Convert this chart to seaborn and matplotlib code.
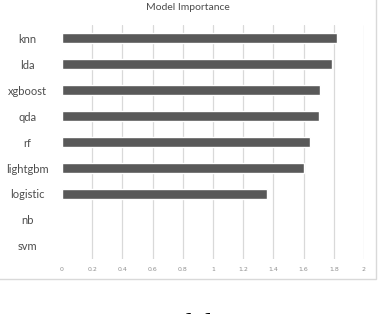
import matplotlib
matplotlib.use('Agg')
import matplotlib.pyplot as plt
import matplotlib.patches as mpatches
import seaborn as sns
import pandas as pd

# ── Data ──────────────────────────────────────────────────────────────────────
models     = ['knn', 'lda', 'xgboost', 'qda', 'rf', 'lightgbm', 'logistic', 'nb', 'svm']
importance = [1.82, 1.79, 1.71, 1.705, 1.645, 1.605, 1.355, 0, 0]
xticks     = [0, 0.2, 0.4, 0.6, 0.8, 1, 1.2, 1.4, 1.6, 1.8, 2]
xticklabels = ['0', '0.2', '0.4', '0.6', '0.8', '1', '1.2', '1.4', '1.6', '1.8', '2']

df = pd.DataFrame({'model': models, 'importance': importance})

# ── Style ─────────────────────────────────────────────────────────────────────
sns.set_theme(style='white')
plt.rcParams['font.family'] = ['Lato', 'DejaVu Sans']

BAR   = '#595959'
GRID  = '#D9D9D9'
TEXT  = '#4D4D4D'

fig = plt.figure(figsize=(3.78, 3.14), dpi=100)
ax = fig.add_axes([62 / 378, 1 - 259 / 314, (364 - 62) / 378, (259 - 25) / 314])

sns.barplot(data=df, x='importance', y='model', orient='h', color=BAR,
            width=0.39, saturation=1, ax=ax)

ax.set_xlim(0, 2)
ax.set_ylim(8.5, -0.5)
ax.set_xticks(xticks)
ax.set_xticklabels(xticklabels, family=['DejaVu Sans'])
ax.set_xlabel('')
ax.set_ylabel('')

ax.xaxis.grid(True, color=GRID, linewidth=0.9)
ax.xaxis.get_gridlines()[0].set_visible(False)
ax.set_axisbelow(True)
for s in ax.spines.values():
    s.set_visible(False)

ax.tick_params(axis='x', length=0, pad=6, labelsize=4.5, labelcolor='#8F8F8F')
ax.tick_params(axis='y', length=0, pad=25, labelsize=8, labelcolor=TEXT)
for lab in ax.get_yticklabels():
    lab.set_horizontalalignment('center')

# title
fig.text(188 / 378, 1 - 7 / 314, 'Model Importance', ha='center', va='center',
         fontsize=7.5, color=TEXT)

# chart border (Excel style)
fig.patches.append(mpatches.Rectangle((-0.01, 1 - 279 / 314), 376 / 378 + 0.01, 279 / 314 + 0.01,
                                      transform=fig.transFigure, fill=False,
                                      edgecolor=GRID, linewidth=1.0))

# caption (only its top edge shows at the bottom)
fig.text(32 / 378, 1 - 332 / 314, 'Figure 3: Model Importance', ha='left', va='baseline',
         fontsize=20, color='black', family=['Liberation Serif', 'DejaVu Serif'])

fig.savefig('out.png', dpi=100)
